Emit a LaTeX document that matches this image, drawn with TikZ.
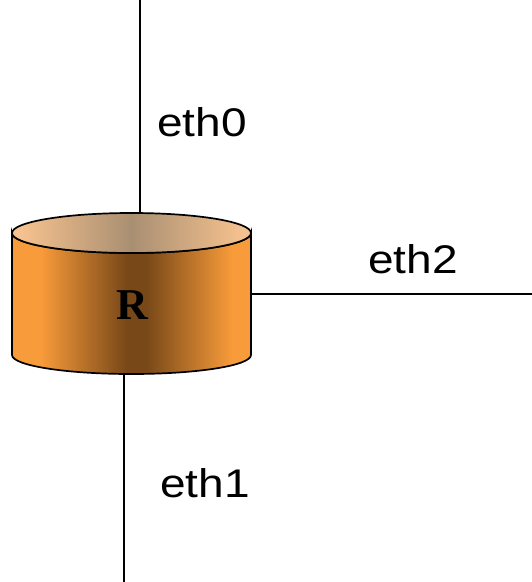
\documentclass[tikz,border=0pt]{standalone}
\usepackage{fontspec}
\setmainfont{Liberation Serif}
\newfontfamily\labelfont[FakeStretch=1.15]{Liberation Sans}
\definecolor{bodyorange}{HTML}{F89B3A}
\definecolor{bodydark}{HTML}{784818}
\definecolor{topedge}{HTML}{F5C18E}
\definecolor{topmid}{HTML}{A98F72}
\pgfdeclarehorizontalshading{bodyshade}{100bp}{color(0bp)=(bodyorange); color(31bp)=(bodyorange); color(49bp)=(bodydark); color(53bp)=(bodydark); color(71bp)=(bodyorange); color(100bp)=(bodyorange)}
\pgfdeclarehorizontalshading{topshade}{100bp}{color(0bp)=(topedge); color(27bp)=(topedge); color(50bp)=(topmid); color(73bp)=(topedge); color(100bp)=(topedge)}
\begin{document}
\begin{tikzpicture}[x=1pt,y=-1pt,
  link/.style={draw=black,line width=1.2pt},
  ethlabel/.style={font=\labelfont\fontsize{40}{40}\selectfont,inner sep=0pt,anchor=base west},
  rim/.style={draw=black,line width=1.7pt}]
\useasboundingbox (0,0) rectangle (532,582);
% connector end points
\coordinate (top) at (140,0);
\coordinate (bot) at (124,582);
\coordinate (right) at (532,294);
\coordinate (rtop) at (140,214);
\coordinate (rbot) at (124,373);
\coordinate (rright) at (251,294);
\draw[link] (top) -- (rtop);
\draw[link] (rbot) -- (bot);
\draw[link] (rright) -- (right);
% router body
\path[rim,shading=bodyshade] (12,233) -- (12,355) arc[start angle=180,end angle=0,x radius=119.5,y radius=19] -- (251,233) arc[start angle=0,end angle=180,x radius=119.5,y radius=20] -- cycle;
\path[rim,shading=topshade] (131.5,233) ellipse[x radius=119.5,y radius=20];
\node[font=\bfseries\fontsize{44}{44}\selectfont,inner sep=0pt] (R) at (132,305) {R};
\node[ethlabel] (eth0) at (157,136) {eth0};
\node[ethlabel] (eth2) at (368,273) {eth2};
\node[ethlabel] (eth1) at (160,497) {eth1};
\end{tikzpicture}
\end{document}
